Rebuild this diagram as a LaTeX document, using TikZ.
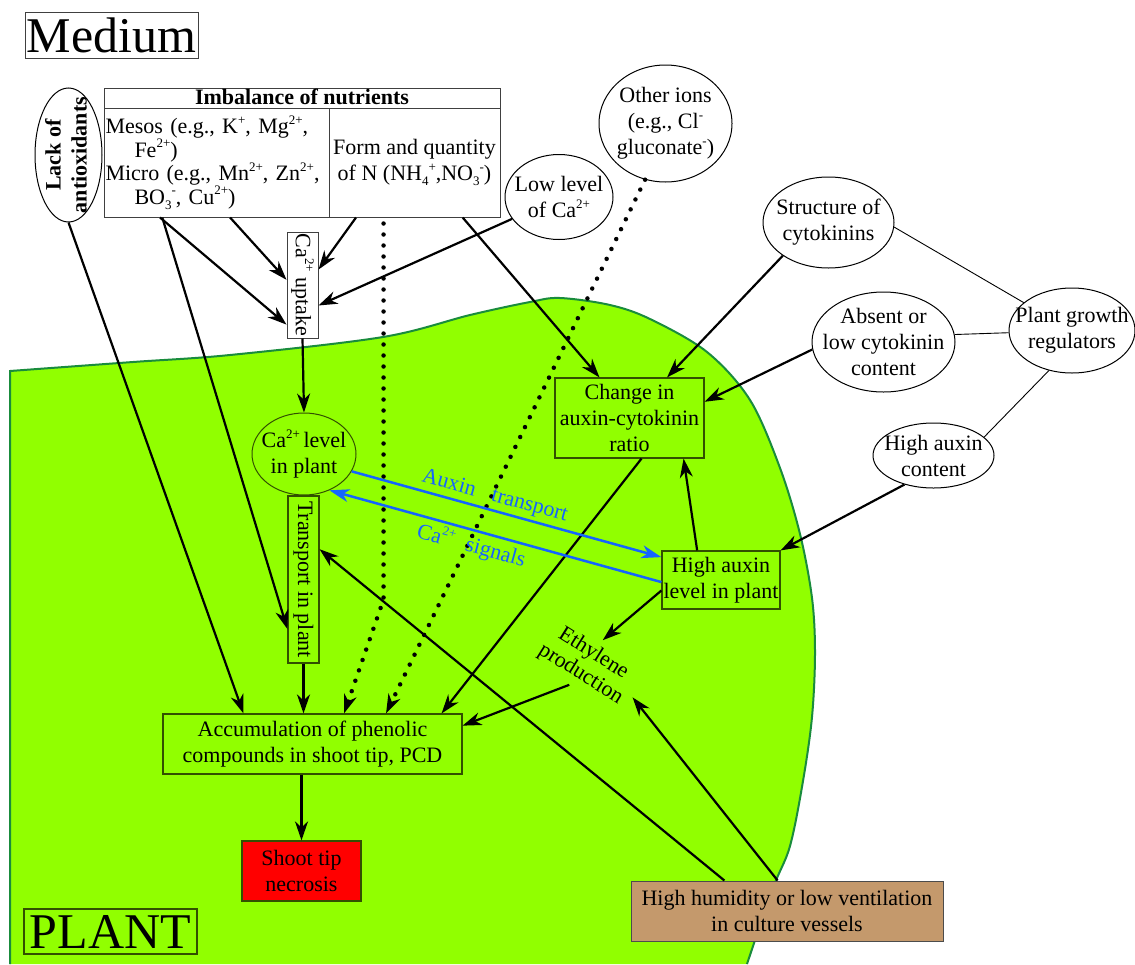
\documentclass[tikz,border=0pt]{standalone}
\usepackage{fontspec}
\setmainfont{Liberation Serif}
\usepackage{graphicx}
\usepackage{xcolor}
\usepackage{tikz}
\usetikzlibrary{arrows.meta, calc, shapes.geometric}
\definecolor{plantgreen}{RGB}{145,255,0}
\definecolor{plantedge}{RGB}{25,140,60}
\definecolor{boxline}{RGB}{50,80,0}
\definecolor{signalblue}{RGB}{20,100,255}
\definecolor{humidtan}{RGB}{196,153,108}
\newcommand{\ionup}[1]{\raisebox{0.42em}{\fontsize{13}{13}\selectfont #1}}
\newcommand{\iondn}[1]{\raisebox{-0.22em}{\fontsize{13}{13}\selectfont #1}}

\begin{document}
\begin{tikzpicture}[x=1pt, y=-1pt,
  every node/.style={font=\fontsize{22}{26}\selectfont, inner sep=0pt},
  oval/.style={ellipse, draw, line width=1pt, fill=white, align=center, inner sep=-20pt},
  wbox/.style={rectangle, draw=black!75, line width=1pt, fill=white, align=center},
  pbox/.style={rectangle, draw=boxline, line width=1.2pt, align=center},
  arr/.style={-{Stealth[length=19pt, width=13pt, inset=6pt]}, line width=2.2pt},
  dotarr/.style={-{Stealth[length=19pt, width=13pt, inset=6pt]}, line width=4.5pt, line cap=round, dash pattern=on 0pt off 11pt},
  bluearr/.style={draw=signalblue, line width=2.5pt},
  thin/.style={line width=0.9pt}]

\path[use as bounding box, fill=white] (0,0) rectangle (1135,964);

% plant body
\draw[plantedge, line width=2pt, fill=plantgreen] (10,964) -- plot[smooth, tension=0.55] coordinates {
  (10,371) (133,362) (230,355) (383,337) (470,315) (530,302) (560,298) (610,305)
  (650,319) (707,352) (750,400) (780,468) (800,534) (812,598) (815,653) (812,717)
  (803,781) (790,846) (773,888) (747,964)};

% medium side
\node[wbox, minimum width=173pt, minimum height=46pt, font=\fontsize{50}{56}\selectfont] (medium) at (111.5,35) {Medium};
\node[oval, minimum width=67pt, minimum height=134pt] (lack) at (68.5,155)
  {\rotatebox{90}{\bfseries\begin{tabular}{@{}c@{}}Lack of\\antioxidants\end{tabular}}};
\node[wbox, minimum width=225pt, minimum height=109pt, text width=222pt, align=left, font=\fontsize{22}{23.5}\selectfont] (mesos) at (216.5,162.5)
  {Mesos (e.g., K\ionup{+}, Mg\ionup{2+},\\\hspace*{29pt}Fe\ionup{2+})\\Micro (e.g., Mn\ionup{2+}, Zn\ionup{2+},\\\hspace*{29pt}BO\iondn{3}\ionup{-}, Cu\ionup{2+})};
\node[wbox, minimum width=171pt, minimum height=109pt] (formN) at (414.5,162.5)
  {Form and quantity\\of N (NH\iondn{4}\ionup{+},NO\iondn{3}\ionup{-})};
\node[wbox, minimum width=396pt, minimum height=20pt, text height=15pt, text depth=2pt] (imbhead) at (302,98) {\bfseries Imbalance of nutrients};
\node[wbox, minimum width=31pt, minimum height=106pt] (uptake) at (302.5,285) {\rotatebox{-90}{Ca\ionup{2+} uptake}};
\node[oval, minimum width=108pt, minimum height=85pt] (lowca) at (559,197) {Low level\\of Ca\ionup{2+}};
\node[oval, minimum width=133pt, minimum height=117pt] (others) at (665.5,123.5) {Other ions\\(e.g., Cl\ionup{-}\\gluconate\ionup{-})};
\node[oval, minimum width=131pt, minimum height=91pt] (struct) at (828.5,222.5) {Structure of\\cytokinins};
\node[oval, minimum width=143pt, minimum height=100pt] (absent) at (883.5,342) {Absent or\\low cytokinin\\content};
\node[oval, minimum width=126pt, minimum height=85pt] (pgr) at (1072,330.5) {Plant growth\\regulators};
\node[oval, minimum width=121pt, minimum height=65pt] (highcont) at (933.5,455.5) {High auxin\\content};

% plant side
\node[pbox, minimum width=149pt, minimum height=80pt] (ratio) at (629.5,418) {Change in\\auxin-cytokinin\\ratio};
\node[pbox, minimum width=118pt, minimum height=58pt] (hal) at (721,580) {High auxin\\level in plant};
\node[oval, fill=none, draw=boxline, minimum width=104pt, minimum height=82pt] (calevel) at (304,454) {Ca\ionup{2+}\,level\\in plant};
\node[pbox, minimum width=31pt, minimum height=167pt] (transport) at (303.5,579.5) {\rotatebox{-90}{Transport in plant}};
\node[pbox, minimum width=299pt, minimum height=60pt] (accum) at (312.5,744) {Accumulation of phenolic\\compounds in shoot tip, PCD};
\node[pbox, fill=red, minimum width=119pt, minimum height=60pt] (necrosis) at (301.5,871) {Shoot tip\\necrosis};
\node[wbox, draw=black!70, fill=humidtan, minimum width=312pt, minimum height=60pt] (humid) at (787,911) {High humidity or low ventilation\\in culture vessels};
\node[rotate=-32, align=center, font=\fontsize{22}{24}\selectfont] (ethyl) at (587,664) {Ethylene\\production};
\node[pbox, minimum width=173pt, minimum height=45pt, font=\fontsize{50}{56}\selectfont] (plantlbl) at (110.5,931.5) {PLANT};

% connectors
\draw[arr] (lack.south) -- ($(accum.north west)!0.27!(accum.north east)$);
\draw[arr] ($(mesos.south west)!0.56!(mesos.south east)$) -- (uptake.162);
\draw[arr] ($(mesos.south west)!0.25!(mesos.south east)$) -- (uptake.248);
\draw[arr] ($(mesos.south west)!0.26!(mesos.south east)$) -- (transport.252);
\draw[arr] ($(formN.south west)!0.16!(formN.south east)$) -- (uptake.44);
\draw[arr] (lowca.205) -- (uptake.308);
\draw[arr] (uptake.south) -- (calevel.north);
\draw[arr] (transport.south) -- (transport.south |- accum.north);
\draw[arr] (necrosis.north |- accum.south) -- (necrosis.north);
\draw[arr] ($(formN.south west)!0.78!(formN.south east)$) -- ($(ratio.north west)!0.3!(ratio.north east)$);
\draw[arr] (struct.216) -- ($(ratio.north west)!0.75!(ratio.north east)$);
\draw[arr] (absent.186) -- ($(ratio.north east)!0.3!(ratio.south east)$);
\draw[arr] (highcont.225) -- (hal.north east);
\draw[arr] ($(hal.north west)!0.3!(hal.north east)$) -- ($(ratio.south west)!0.86!(ratio.south east)$);
\draw[arr] (hal.190) -- ($(ethyl.north)+(4,-5)$);
\draw[arr] ($(ethyl.south)+(-6,2)$) -- ($(accum.north east)!0.2!(accum.south east)$);
\draw[arr] ($(ratio.south west)!0.58!(ratio.south east)$) -- ($(accum.north west)!0.93!(accum.north east)$);
\draw[arr] ($(humid.north west)!0.3!(humid.north east)$) -- ($(transport.north east)!0.32!(transport.south east)$);
\draw[arr] ($(humid.north west)!0.47!(humid.north east)$) -- ($(ethyl.east)+(5,8)$);

\draw[dotarr] ($(formN.south west)!0.32!(formN.south east)+(0,6)$) -- ++(0,376) -- ($(accum.north west)!0.605!(accum.north east)$);
\draw[dotarr] (others.250) -- ($(accum.north west)!0.745!(accum.north east)$);

\draw[bluearr, -{Stealth[length=20pt, width=13pt, inset=6pt]}] (calevel.340) --
  node[pos=0.45, sloped, above=3pt, text=signalblue] (auxlbl) {Auxin\hspace{17pt}transport} (hal.159);
\draw[bluearr, {Stealth[length=20pt, width=13pt, inset=6pt]}-] (calevel.305) --
  node[pos=0.44, sloped, below=3pt, text=signalblue] (calbl) {Ca\ionup{2+}\hspace{12pt}signals} (hal.182);

\draw[thin] (struct.356) -- (pgr.150);
\draw[thin] (absent.6) -- (pgr.182);
\draw[thin] (highcont.20) -- (pgr.240);
\end{tikzpicture}
\end{document}
